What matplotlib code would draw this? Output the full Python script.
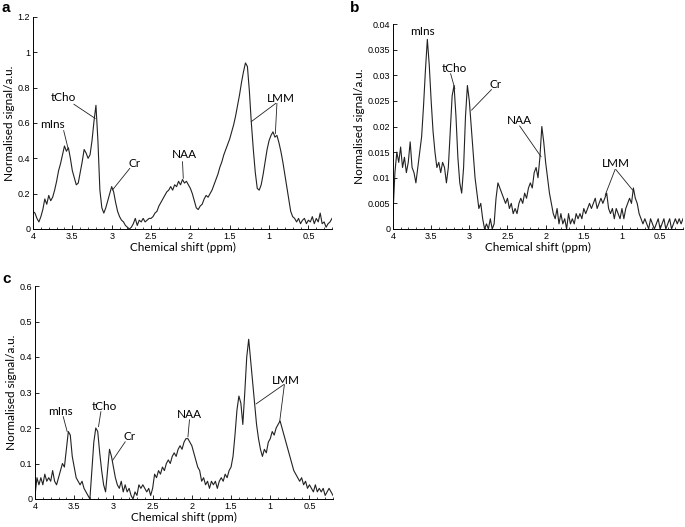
import numpy as np
import matplotlib
matplotlib.use("Agg")
import matplotlib.pyplot as plt
from matplotlib.ticker import MultipleLocator, FormatStrFormatter

# spectra sampled every 0.025 ppm from 4.0 down to 0.2 ppm
sig_a = [0.10, 0.09, 0.06, 0.04, 0.07, 0.11, 0.17, 0.14, 0.19, 0.16,
         0.18, 0.22, 0.27, 0.33, 0.37, 0.42, 0.47, 0.44, 0.46, 0.40,
         0.33, 0.29, 0.25, 0.26, 0.32, 0.38, 0.45, 0.43, 0.40, 0.42,
         0.50, 0.61, 0.70, 0.50, 0.22, 0.12, 0.09, 0.12, 0.16, 0.20,
         0.24, 0.21, 0.15, 0.10, 0.07, 0.05, 0.04, 0.02, 0.01, 0.00,
         0.01, 0.03, 0.06, 0.02, 0.05, 0.04, 0.06, 0.04, 0.05, 0.06,
         0.06, 0.07, 0.09, 0.10, 0.13, 0.15, 0.17, 0.19, 0.21, 0.22,
         0.24, 0.22, 0.25, 0.24, 0.27, 0.25, 0.28, 0.26, 0.27, 0.25,
         0.23, 0.20, 0.16, 0.12, 0.11, 0.13, 0.14, 0.17, 0.19, 0.18,
         0.20, 0.22, 0.25, 0.28, 0.31, 0.35, 0.38, 0.42, 0.45, 0.48,
         0.51, 0.55, 0.59, 0.64, 0.70, 0.76, 0.83, 0.89, 0.94, 0.92,
         0.78, 0.60, 0.45, 0.32, 0.23, 0.22, 0.25, 0.31, 0.38, 0.45,
         0.50, 0.53, 0.55, 0.52, 0.53, 0.49, 0.44, 0.38, 0.31, 0.24,
         0.17, 0.10, 0.07, 0.06, 0.04, 0.06, 0.03, 0.05, 0.06, 0.03,
         0.05, 0.04, 0.07, 0.03, 0.06, 0.04, 0.09, 0.03, 0.04, 0.01,
         0.03, 0.04, 0.06]

sig_b = [0.003, 0.011, 0.015, 0.013, 0.016, 0.012, 0.014, 0.011, 0.013, 0.017,
         0.012, 0.011, 0.009, 0.012, 0.015, 0.018, 0.024, 0.031, 0.037, 0.032,
         0.025, 0.019, 0.015, 0.012, 0.013, 0.011, 0.013, 0.012, 0.009, 0.012,
         0.019, 0.026, 0.028, 0.022, 0.014, 0.009, 0.007, 0.012, 0.022, 0.028,
         0.025, 0.020, 0.015, 0.010, 0.007, 0.004, 0.005, 0.002, 0.000, 0.001,
         0.000, 0.002, 0.000, 0.001, 0.006, 0.009, 0.008, 0.007, 0.006, 0.005,
         0.006, 0.004, 0.005, 0.003, 0.004, 0.003, 0.005, 0.006, 0.005, 0.007,
         0.006, 0.008, 0.009, 0.008, 0.011, 0.012, 0.010, 0.014, 0.020, 0.017,
         0.013, 0.010, 0.007, 0.005, 0.003, 0.002, 0.004, 0.001, 0.003, 0.001,
         0.002, 0.000, 0.003, 0.001, 0.002, 0.001, 0.003, 0.002, 0.003, 0.002,
         0.004, 0.003, 0.004, 0.005, 0.004, 0.005, 0.006, 0.004, 0.005, 0.006,
         0.005, 0.006, 0.007, 0.004, 0.003, 0.004, 0.002, 0.004, 0.003, 0.002,
         0.004, 0.002, 0.004, 0.005, 0.006, 0.005, 0.008, 0.006, 0.005, 0.003,
         0.002, 0.001, 0.002, 0.001, 0.000, 0.002, 0.001, 0.000, 0.001, 0.002,
         0.000, 0.001, 0.002, 0.000, 0.001, 0.002, 0.000, 0.001, 0.002, 0.001,
         0.002, 0.001, 0.002]

sig_c = [0.01, 0.06, 0.04, 0.06, 0.04, 0.07, 0.05, 0.06, 0.05, 0.08,
         0.05, 0.04, 0.06, 0.08, 0.10, 0.09, 0.14, 0.19, 0.18, 0.12,
         0.09, 0.06, 0.05, 0.04, 0.05, 0.03, 0.02, 0.01, 0.00, 0.08,
         0.16, 0.20, 0.19, 0.13, 0.08, 0.04, 0.02, 0.08, 0.14, 0.12,
         0.09, 0.06, 0.04, 0.03, 0.05, 0.02, 0.04, 0.02, 0.03, 0.01,
         0.00, 0.02, 0.01, 0.04, 0.03, 0.04, 0.03, 0.02, 0.03, 0.01,
         0.03, 0.07, 0.06, 0.08, 0.07, 0.09, 0.08, 0.10, 0.11, 0.10,
         0.12, 0.13, 0.12, 0.14, 0.15, 0.14, 0.16, 0.17, 0.17, 0.16,
         0.15, 0.13, 0.11, 0.09, 0.08, 0.05, 0.06, 0.04, 0.05, 0.03,
         0.05, 0.04, 0.05, 0.03, 0.05, 0.06, 0.05, 0.07, 0.06, 0.08,
         0.09, 0.12, 0.18, 0.25, 0.29, 0.27, 0.21, 0.30, 0.40, 0.45,
         0.39, 0.33, 0.27, 0.21, 0.17, 0.14, 0.12, 0.14, 0.13, 0.16,
         0.17, 0.19, 0.18, 0.20, 0.21, 0.22, 0.20, 0.18, 0.16, 0.14,
         0.12, 0.10, 0.08, 0.07, 0.06, 0.05, 0.06, 0.04, 0.05, 0.03,
         0.04, 0.03, 0.02, 0.04, 0.02, 0.03, 0.02, 0.03, 0.01, 0.02,
         0.03, 0.02, 0.01]

# labels: (text, text x, text y, [(line start x, y, tip x, tip y), ...])
labels_a = [("mIns", 3.75, 0.59, [(3.61, 0.557, 3.555, 0.457)]),
            ("tCho", 3.62, 0.743, [(3.48, 0.706, 3.21, 0.626)]),
            ("Cr", 2.71, 0.372, [(2.77, 0.343, 2.99, 0.221)]),
            ("NAA", 2.07, 0.419, [(2.10, 0.381, 2.09, 0.287)]),
            ("LMM", 0.85, 0.74, [(0.915, 0.711, 1.225, 0.608), (0.90, 0.711, 0.92, 0.54)])]
labels_b = [("mIns", 3.62, 0.0386, []),
            ("tCho", 3.19, 0.0314, [(3.245, 0.0303, 3.19, 0.0274)]),
            ("Cr", 2.65, 0.0282, [(2.71, 0.0272, 2.97, 0.0232)]),
            ("NAA", 2.34, 0.0212, [(2.34, 0.0201, 2.06, 0.0141)]),
            ("LMM", 1.08, 0.0127, [(1.09, 0.0116, 1.22, 0.0066), (1.08, 0.0116, 0.86, 0.0076)])]
labels_c = [("mIns", 3.68, 0.246, [(3.64, 0.232, 3.59, 0.19)]),
            ("tCho", 3.11, 0.26, [(3.16, 0.246, 3.19, 0.204)]),
            ("Cr", 2.79, 0.177, [(2.85, 0.161, 3.01, 0.109)]),
            ("NAA", 2.03, 0.239, [(2.03, 0.223, 2.05, 0.175)]),
            ("LMM", 0.80, 0.333, [(0.83, 0.322, 1.18, 0.268), (0.82, 0.322, 0.88, 0.218)])]

plt.rcParams['font.family'] = ['Liberation Sans', 'DejaVu Sans']

W, H = 685, 527
fig = plt.figure(figsize=(W / 100, H / 100), dpi=100)

# name, data, labels, ymax, ystep, axes rect in pixels (left, top, right, bottom), letter position
panels = [
    ("a", sig_a, labels_a, 1.2, 0.2, (33, 17, 332, 229), (2, 8)),
    ("b", sig_b, labels_b, 0.04, 0.005, (393, 24, 683, 229), (350, 8)),
    ("c", sig_c, labels_c, 0.6, 0.1, (35, 286, 333, 499), (2, 279)),
]

for name, sig, labels, ymax, ystep, px, lp in panels:
    l, t, r, b = px
    ax = fig.add_axes([l / W, 1 - b / H, (r - l) / W, (b - t) / H])
    ppm = np.linspace(4.0, 0.2, len(sig))
    ax.plot(ppm, sig, color='#222222', lw=0.8)
    ax.set_xlim(4.0, 0.2)
    ax.set_ylim(0, ymax)
    ax.spines['top'].set_visible(False)
    ax.spines['right'].set_visible(False)
    ax.spines['left'].set_linewidth(0.7)
    ax.spines['bottom'].set_linewidth(0.7)
    ax.xaxis.set_major_locator(MultipleLocator(0.5))
    ax.xaxis.set_minor_locator(MultipleLocator(0.1))
    ax.yaxis.set_major_locator(MultipleLocator(ystep))
    ax.xaxis.set_major_formatter(FormatStrFormatter('%g'))
    ax.yaxis.set_major_formatter(FormatStrFormatter('%g'))
    ax.tick_params(direction='in', labelsize=6.5, length=3, width=0.6, pad=2)
    ax.tick_params(which='minor', direction='in', length=1.5, width=0.5)
    ax.set_xlabel("Chemical shift (ppm)", family=['Lato', 'DejaVu Sans'], fontsize=8.5, labelpad=1)
    ax.set_ylabel("Normalised signal/a.u.", family=['Lato', 'DejaVu Sans'], fontsize=8.5, labelpad=2)
    for txt, tx, ty, lines in labels:
        ax.text(tx, ty, txt, ha='center', va='center', fontsize=8.5,
                family=['Lato', 'DejaVu Sans'])
        for x0, y0, x1, y1 in lines:
            ax.plot([x0, x1], [y0, y1], color='#222222', lw=0.6)
    fig.text(lp[0] / W, 1 - lp[1] / H, name, fontsize=11, fontweight='bold',
             ha='left', va='center')

fig.savefig("out.png", dpi=100)
